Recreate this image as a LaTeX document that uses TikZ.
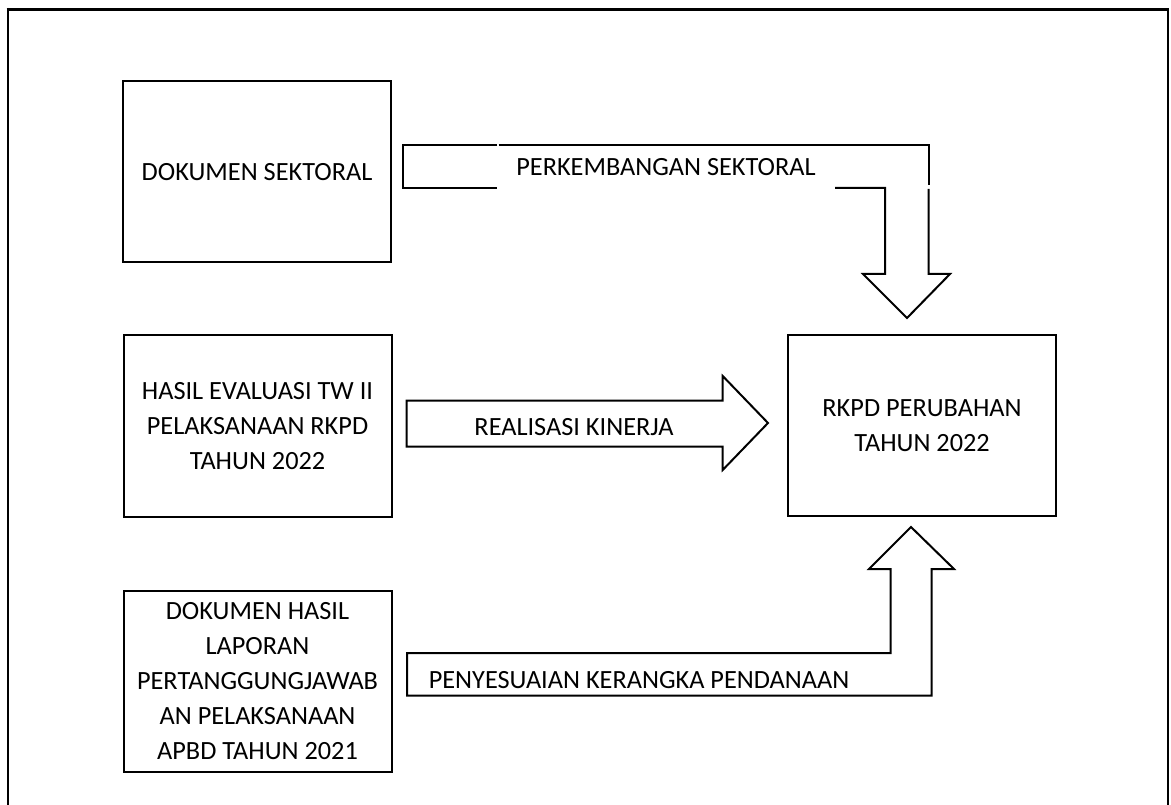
\documentclass[tikz,border=0pt]{standalone}
\usepackage{fontspec}
\setmainfont{Carlito}
\begin{document}
\begin{tikzpicture}[x=1pt,y=-1pt,
  txt/.style={font=\fontsize{26.3}{35}\selectfont},
  box/.style={txt,draw,line width=2pt,inner sep=0pt,align=center,minimum width=268pt,minimum height=181pt},
  lbl/.style={txt,inner sep=0pt,anchor=base},
  blk/.style={draw,line width=2pt,line join=miter}]
\useasboundingbox (0,0) rectangle (1171,805);
% outer frame
\draw[line width=3pt] (6.5,9.5) -- (1168.5,9.5);
\draw[line width=2.5pt] (8,8) -- (8,806);
\draw[line width=1.5pt] (1168,9) -- (1168,806);
% boxes
\node[box] (b1) at (257,172) {DOKUMEN SEKTORAL};
\node[box] (b2) at (257.5,426) {HASIL EVALUASI TW II\\PELAKSANAAN RKPD\\TAHUN 2022};
\node[box] (b3) at (257.5,681) {DOKUMEN HASIL\\LAPORAN\\PERTANGGUNGJAWAB\\AN PELAKSANAAN\\APBD TAHUN 2021};
\node[box] (r) at (922,425.5) {RKPD PERUBAHAN\\TAHUN 2022};
% bent arrow 1
\draw[blk] (497,145) -- (403,145) -- (403,188) -- (497,188);
\draw[blk] (498.5,145) -- (928.5,145) -- (928.5,185);
\draw[blk] (835,188) -- (885,188) -- (885,274) -- (863,274) -- (907,318) -- (950,274) -- (928.5,274) -- (928.5,189);
% straight arrow 2
\draw[blk] (406.7,400.7) -- (722.7,400.7) -- (722.7,376) -- (768,423) -- (722.7,470) -- (722.7,446.7) -- (406.7,446.7) -- cycle;
% bent arrow 3
\draw[blk] (407,653) -- (890.7,653) -- (890.7,569) -- (869,569) -- (911,527) -- (954,569) -- (931.7,569) -- (931.7,695.7) -- (407,695.7) -- cycle;
% labels
\node[lbl] (l1) at (666,176) {PERKEMBANGAN SEKTORAL};
\node[lbl] (l2) at (574,435) {REALISASI KINERJA};
\node[lbl] (l3) at (639,688) {PENYESUAIAN KERANGKA PENDANAAN};
\end{tikzpicture}
\end{document}
